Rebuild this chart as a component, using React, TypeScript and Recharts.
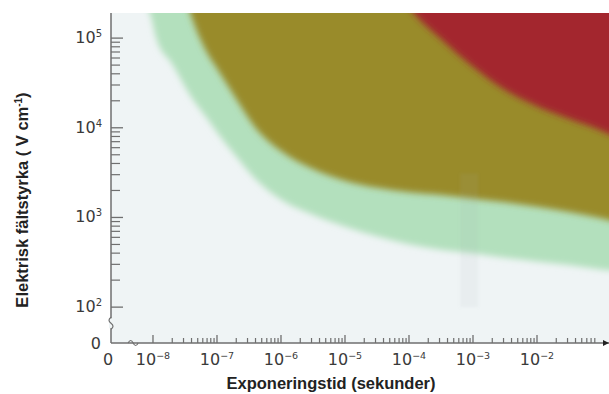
import React from 'react';
import { ComposedChart, Area, XAxis, YAxis, CartesianGrid, ReferenceArea } from 'recharts';

// x = log10(exposure time in s), y = log10(field strength in V/cm)
const logTime = [-8.7, -8.05, -7.95, -7.7, -7.4, -7.15, -7.0, -6.7, -6.4, -6.0, -5.5, -5.0, -4.5, -4.0, -3.5, -3.0, -2.5, -2.0, -1.5, -1.0, -0.875, -0.6];
// lower edge of the green band
const greenEdge = [5.9, 5.28, 5.0, 4.71, 4.34, 4.1, 3.95, 3.68, 3.43, 3.2, 3.03, 2.9, 2.79, 2.7, 2.64, 2.6, 2.55, 2.51, 2.47, 2.42, 2.41, 2.39];
// lower edge of the olive zone
const oliveEdge = [6.0, 6.0, 6.0, 6.0, 5.24, 4.83, 4.66, 4.32, 4.0, 3.74, 3.54, 3.41, 3.33, 3.28, 3.25, 3.21, 3.17, 3.12, 3.06, 2.99, 2.97, 2.93];
// lower edge of the red zone
const redEdge = [6.0, 6.0, 6.0, 6.0, 6.0, 6.0, 6.0, 6.0, 6.0, 6.0, 6.0, 6.0, 6.0, 5.35, 4.99, 4.68, 4.42, 4.24, 4.1, 3.97, 3.93, 3.86];
const ceiling = 6.0;

// faint grey strip in the scan
const stripTime = [-3.2, -2.92];
const stripField = [2.0, 3.49];

const xMajorExp = [-8, -7, -6, -5, -4, -3, -2];
const yMajorExp = [2, 3, 4, 5];
const minorMult = [2, 3, 4, 5, 6, 7, 8, 9];
const lastMinorMult = [2, 3, 4, 5, 6, 7, 8];

const xDomain: [number, number] = [-8.656, -0.875];
const yDomain: [number, number] = [1.6, 5.28];
const xBreak = -8.31;
const yBreak = 1.82;

type Tick = { v: number; kind: string; exp?: number };

const xTicks: Tick[] = [{ v: xDomain[0], kind: 'zero' }, { v: xBreak, kind: 'break' }];
xMajorExp.forEach((e, i) => {
  xTicks.push({ v: e, kind: 'major', exp: e });
  const mults = i === xMajorExp.length - 1 ? lastMinorMult : minorMult;
  mults.forEach((m) => xTicks.push({ v: e + Math.log10(m), kind: 'minor' }));
});
xTicks.push({ v: xDomain[1], kind: 'arrow' });

const yTicks: Tick[] = [{ v: yDomain[0], kind: 'zero' }, { v: yBreak, kind: 'break' }];
yMajorExp.forEach((e, i) => {
  yTicks.push({ v: e, kind: 'major', exp: e });
  if (i < yMajorExp.length - 1) minorMult.forEach((m) => yTicks.push({ v: e + Math.log10(m), kind: 'minor' }));
});

const data = logTime.map((t, i) => ({
  t,
  green: [greenEdge[i], ceiling],
  olive: [oliveEdge[i], ceiling],
  red: [redEdge[i], ceiling],
}));

const AXIS = '#6f6f6f';
const TXT = '#3a3a3a';
const BG = '#eff4f5';
const TICK_FONT = '"DejaVu Sans", Verdana, sans-serif';
const TITLE_FONT = '"Liberation Sans", Arial, sans-serif';

const XTick = (props: any) => {
  const { x, y, index } = props;
  const tk = xTicks[index];
  if (!tk) return null;
  if (tk.kind === 'zero')
    return <text x={x - 3} y={y + 22} textAnchor="middle" fontSize={16} fill={TXT} fontFamily={TICK_FONT}>0</text>;
  if (tk.kind === 'break')
    return <path d={`M${x - 5},${y} q2.5,-5 5,0 q2.5,5 5,0`} fill="none" stroke={AXIS} strokeWidth={1.2} />;
  if (tk.kind === 'arrow')
    return <path d={`M${x - 6},${y - 3} L${x},${y} L${x - 6},${y + 3} Z`} fill="#222" />;
  if (tk.kind === 'minor') return <line x1={x} x2={x} y1={y} y2={y - 5} stroke={AXIS} strokeWidth={1.2} />;
  return (
    <g>
      <line x1={x} x2={x} y1={y} y2={y - 8} stroke={AXIS} strokeWidth={1.3} />
      <text x={x} y={y + 22} textAnchor="middle" fontSize={16} fill={TXT} fontFamily={TICK_FONT}>
        10<tspan dy={-6} fontSize={9.5}>{'\u2212' + Math.abs(tk.exp as number)}</tspan>
      </text>
    </g>
  );
};

const YTick = (props: any) => {
  const { x, y, index } = props;
  const tk = yTicks[index];
  if (!tk) return null;
  if (tk.kind === 'zero')
    return <text x={x - 10} y={y + 6} textAnchor="end" fontSize={16} fill={TXT} fontFamily={TICK_FONT}>0</text>;
  if (tk.kind === 'break')
    return (
      <g>
        <rect x={x - 2} y={y - 5} width={4} height={10} fill={BG} />
        <path d={`M${x},${y - 6} q-4,3 0,6 q4,3 0,6`} fill="none" stroke={AXIS} strokeWidth={1.2} />
      </g>
    );
  if (tk.kind === 'minor') return <line x1={x} x2={x + 9} y1={y} y2={y} stroke={AXIS} strokeWidth={1.2} />;
  return (
    <g>
      <line x1={x} x2={x + 12} y1={y} y2={y} stroke={AXIS} strokeWidth={1.3} />
      <text x={x - 9} y={y + 5} textAnchor="end" fontSize={16} fill={TXT} fontFamily={TICK_FONT}>
        10<tspan dy={-6} fontSize={10}>{String(tk.exp)}</tspan>
      </text>
    </g>
  );
};

export default function App() {
  return (
    <div style={{ position: 'absolute', left: 0, top: 0, width: 609, height: 394, background: '#fff' }}>
      <style>{'.recharts-area-area{filter:url(#softEdge);}'}</style>
      <svg width={0} height={0} style={{ position: 'absolute' }}>
        <defs>
          <filter id="softEdge" x="-10%" y="-10%" width="120%" height="120%">
            <feGaussianBlur stdDeviation={3} />
          </filter>
          <filter id="softStrip" x="-50%" y="-20%" width="200%" height="140%">
            <feGaussianBlur stdDeviation={1.5} />
          </filter>
        </defs>
      </svg>
      <ComposedChart width={609} height={394} data={data} margin={{ top: 13, right: 0, bottom: 0, left: 0 }}>
        <CartesianGrid horizontal={false} vertical={false} fill={BG} />
        <XAxis
          dataKey="t"
          type="number"
          domain={xDomain}
          allowDataOverflow
          ticks={xTicks.map((t) => t.v)}
          interval={0}
          height={51}
          tickSize={0}
          tickMargin={0}
          tickLine={false}
          axisLine={{ stroke: AXIS, strokeWidth: 1.5 }}
          tick={(p: any) => <XTick {...p} />}
          label={{
            content: () => (
              <text x={331} y={389} textAnchor="middle" fontSize={16.5} fontWeight="bold" fill="#222" fontFamily={TITLE_FONT}>
                Exponeringstid (sekunder)
              </text>
            ),
          }}
        />
        <YAxis
          type="number"
          domain={yDomain}
          allowDataOverflow
          ticks={yTicks.map((t) => t.v)}
          interval={0}
          width={111}
          tickSize={0}
          tickMargin={0}
          tickLine={false}
          axisLine={{ stroke: AXIS, strokeWidth: 1.5 }}
          tick={(p: any) => <YTick {...p} />}
          label={{
            content: () => (
              <text x={28} y={200} transform="rotate(-90, 28, 200)" textAnchor="middle" fontSize={16.5} fontWeight="bold" fill="#222" fontFamily={TITLE_FONT}>
                Elektrisk fältstyrka ( V cm<tspan dy={-6} fontSize={10}>-1</tspan><tspan dy={6}>)</tspan>
              </text>
            ),
          }}
        />
        <Area dataKey="green" type="monotone" fill="#b3e0bd" fillOpacity={1} stroke="none" isAnimationActive={false} />
        <Area dataKey="olive" type="monotone" fill="#998b2a" fillOpacity={1} stroke="none" isAnimationActive={false} />
        <Area dataKey="red" type="monotone" fill="#a3252e" fillOpacity={1} stroke="none" isAnimationActive={false} />
        <ReferenceArea
          x1={stripTime[0]}
          x2={stripTime[1]}
          y1={stripField[0]}
          y2={stripField[1]}
          fill="#a0a4ae"
          fillOpacity={0.09}
          stroke="none"
          style={{ filter: 'url(#softStrip)' }}
        />
      </ComposedChart>
    </div>
  );
}
